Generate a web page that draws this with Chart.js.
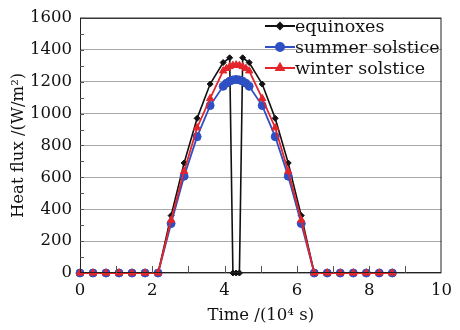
<!DOCTYPE html>
<html>
<head>
<meta charset="utf-8">
<script src="https://cdn.jsdelivr.net/npm/chart.js@4"></script>
<style>
  html, body { margin: 0; padding: 0; background: #fff; }
  #wrap { width: 460px; height: 330px; }
</style>
</head>
<body>
<div id="wrap"><canvas id="heatChart" width="460" height="330"></canvas></div>
<script>
// Data (time in 10^4 s, heat flux in W/m^2)
const equinoxTimes = [0, 0.36, 0.72, 1.08, 1.44, 1.8, 2.16, 2.52, 2.88, 3.24, 3.6, 3.96, 4.14, 4.23, 4.32, 4.41, 4.5, 4.68, 5.04, 5.4, 5.76, 6.12, 6.48, 6.84, 7.2, 7.56, 7.92, 8.28, 8.64];
const equinoxFlux = [0, 0, 0, 0, 0, 0, 0, 360, 690, 970, 1185, 1320, 1350, 0, 0, 0, 1350, 1320, 1185, 970, 690, 360, 0, 0, 0, 0, 0, 0, 0];

const solsticeTimes = [0, 0.36, 0.72, 1.08, 1.44, 1.8, 2.16, 2.52, 2.88, 3.24, 3.6, 3.96, 4.05, 4.14, 4.23, 4.32, 4.41, 4.5, 4.59, 4.68, 5.04, 5.4, 5.76, 6.12, 6.48, 6.84, 7.2, 7.56, 7.92, 8.28, 8.64];
const summerFlux = [0, 0, 0, 0, 0, 0, 0, 310, 607, 855, 1050, 1171, 1190, 1203, 1211, 1214, 1211, 1203, 1190, 1171, 1050, 855, 607, 310, 0, 0, 0, 0, 0, 0, 0];
const winterFlux = [0, 0, 0, 0, 0, 0, 0, 332, 638, 911, 1095, 1268, 1283, 1295, 1302, 1305, 1302, 1295, 1283, 1268, 1095, 911, 638, 332, 0, 0, 0, 0, 0, 0, 0];

const xTicks = [0, 2, 4, 6, 8, 10];
const yTicks = [0, 200, 400, 600, 800, 1000, 1200, 1400, 1600];
const seriesNames = ['equinoxes', 'summer solstice', 'winter solstice'];

const FONT = '"DejaVu Serif", "Liberation Serif", serif';
const BLACK = '#111111';
const BLUE = '#2f4fc4';
const RED = '#e2262b';

function pairs(xs, ys) {
    return xs.map((x, i) => ({ x: x, y: ys[i] }));
}

// Frame, inward ticks and legend
const framePlugin = {
    id: 'frame',
    afterDraw(chart) {
        const ctx = chart.ctx;
        const a = chart.chartArea;
        const xs = chart.scales.x;
        const ys = chart.scales.y;
        ctx.save();
        ctx.strokeStyle = '#222';
        ctx.lineWidth = 1;
        ctx.strokeRect(a.left + 0.5, a.top + 0.5, a.right - a.left - 1, a.bottom - a.top - 1);

        // inward x ticks every 1
        ctx.strokeStyle = '#555';
        for (let v = 1; v < 10; v++) {
            const px = Math.round(xs.getPixelForValue(v)) + 0.5;
            ctx.beginPath();
            ctx.moveTo(px, a.bottom);
            ctx.lineTo(px, a.bottom - 7);
            ctx.stroke();
        }
        // inward y minor ticks every 100
        for (let v = 100; v < 1600; v += 100) {
            const py = Math.round(ys.getPixelForValue(v)) + 0.5;
            ctx.beginPath();
            ctx.moveTo(a.left, py);
            ctx.lineTo(a.left + 4, py);
            ctx.stroke();
        }

        // legend
        const colors = [BLACK, BLUE, RED];
        const styles = ['rectRot', 'circle', 'triangle'];
        const radii = [3, 4, 4.2];
        const lx = 265, ly = 26, step = 21;
        ctx.font = '17.5px ' + FONT;
        ctx.textBaseline = 'middle';
        seriesNames.forEach((name, i) => {
            const y = ly + i * step;
            ctx.strokeStyle = colors[i];
            ctx.fillStyle = colors[i];
            ctx.lineWidth = 2;
            ctx.beginPath();
            ctx.moveTo(lx, y);
            ctx.lineTo(lx + 30, y);
            ctx.stroke();
            Chart.helpers.drawPoint(ctx, { pointStyle: styles[i], radius: radii[i], borderWidth: 1 }, lx + 15, y);
            ctx.fillStyle = '#111';
            ctx.fillText(name, lx + 30, y + 1);
        });
        ctx.restore();
    }
};

const ctx = document.getElementById('heatChart').getContext('2d');
new Chart(ctx, {
    type: 'scatter',
    data: {
        datasets: [
            {
                label: seriesNames[0],
                data: pairs(equinoxTimes, equinoxFlux),
                showLine: true,
                borderColor: BLACK,
                backgroundColor: BLACK,
                borderWidth: 1.6,
                pointStyle: 'rectRot',
                pointRadius: 3,
                pointBorderWidth: 1,
                order: 2,
                clip: false
            },
            {
                label: seriesNames[1],
                data: pairs(solsticeTimes, summerFlux),
                showLine: true,
                borderColor: BLUE,
                backgroundColor: BLUE,
                borderWidth: 1.8,
                pointStyle: 'circle',
                pointRadius: 4,
                pointBorderWidth: 1,
                order: 1,
                clip: false
            },
            {
                label: seriesNames[2],
                data: pairs(solsticeTimes, winterFlux),
                showLine: true,
                borderColor: RED,
                backgroundColor: RED,
                borderWidth: 1.8,
                pointStyle: 'triangle',
                pointRadius: 4.2,
                pointBorderWidth: 1,
                order: 0,
                clip: false
            }
        ]
    },
    options: {
        responsive: false,
        animation: false,
        layout: { padding: { top: 13, right: 11, left: 0, bottom: 0 } },
        plugins: {
            legend: { display: false },
            tooltip: { enabled: false }
        },
        scales: {
            x: {
                type: 'linear',
                min: 0,
                max: 10,
                afterFit: (s) => { s.height = 57; },
                afterBuildTicks: (s) => { s.ticks = xTicks.map(v => ({ value: v })); },
                grid: { display: false, drawTicks: false },
                border: { display: false },
                ticks: {
                    color: '#111',
                    font: { family: FONT, size: 16.5 },
                    padding: 8,
                    maxRotation: 0,
                    callback: (v) => String(v)
                },
                title: {
                    display: true,
                    text: 'Time /(10\u2074 s)',
                    color: '#111',
                    font: { family: FONT, size: 16.5 },
                    padding: { top: 0 }
                }
            },
            y: {
                min: 0,
                max: 1600,
                afterFit: (s) => { s.width = 80; },
                afterBuildTicks: (s) => { s.ticks = yTicks.map(v => ({ value: v })); },
                grid: { color: '#a8a8a8', lineWidth: 1, drawTicks: false },
                border: { display: false },
                ticks: {
                    color: '#111',
                    font: { family: FONT, size: 16.5 },
                    padding: 8,
                    callback: (v) => String(v)
                },
                title: {
                    display: true,
                    text: 'Heat flux /(W/m\u00b2)',
                    color: '#111',
                    font: { family: FONT, size: 16.5 },
                    padding: { top: 9, bottom: 0 }
                }
            }
        }
    },
    plugins: [framePlugin]
});
</script>
</body>
</html>
